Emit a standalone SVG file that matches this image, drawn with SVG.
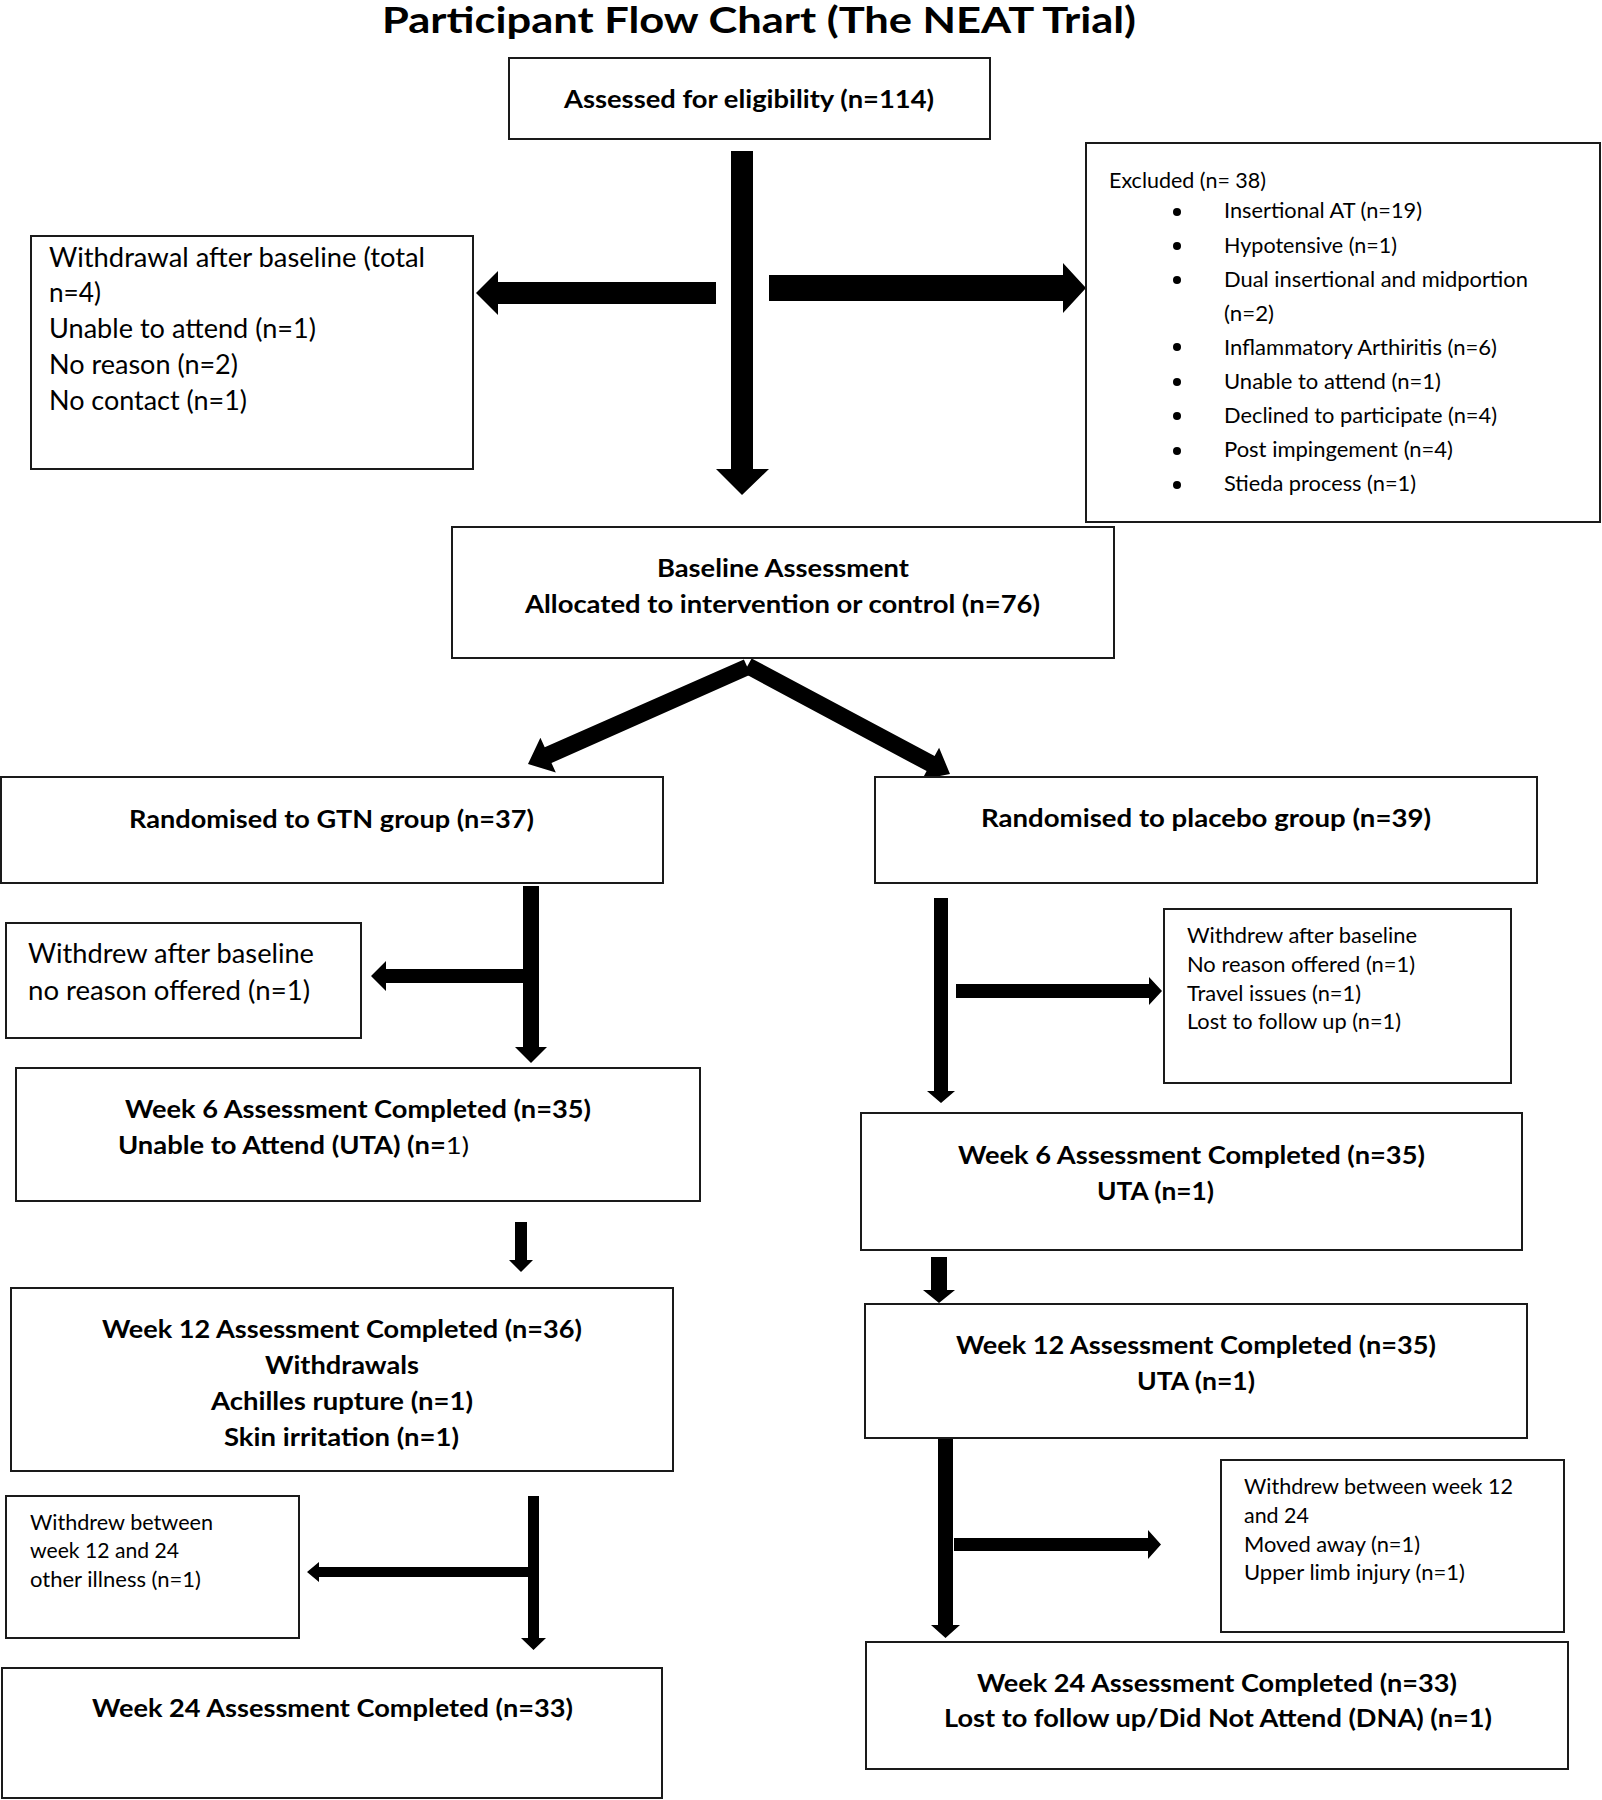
<svg xmlns="http://www.w3.org/2000/svg" width="1602" height="1800" viewBox="0 0 1602 1800">
<style>
.bg{fill:#ffffff}
.box{fill:#ffffff;stroke:#1a1a1a;stroke-width:2}
.arrow{fill:#000000;stroke:none}
text{font-family:Lato,"Liberation Sans",sans-serif;fill:#000000}
.title{font-size:36px;font-weight:bold}
.hb{font-size:24px;font-weight:bold}
.lg{font-size:26px}
.sm{font-size:21px}
.bul{fill:#000000}
</style>
<rect class="bg" x="0" y="0" width="1602" height="1800"/>
<text id="title" class="title" x="382" y="33" textLength="754" lengthAdjust="spacingAndGlyphs">Participant Flow Chart (The NEAT Trial)</text>

<g id="connectors">
<path class="arrow" d="M731,151 H753 V469 H769 L742,495 L716,469 H731 Z"/>
<path class="arrow" d="M716,282 V304 H498 V315 L476,293 L498,271 V282 Z"/>
<path class="arrow" d="M769,275 H1063 V263 L1086,288 L1063,313 V301 H769 Z"/>
<path class="arrow" d="M743.9,659.5 L544.7,747.3 L540.4,737.7 L528,764 L555.8,772.5 L551.5,762.9 L750.7,674.6 Z"/>
<path class="arrow" d="M751.6,658.5 L934.6,756.1 L939.1,747.7 L950,774 L922.1,779.5 L926.6,771.1 L743.6,673.1 Z"/>
<path class="arrow" d="M523,886 H539 V1047 H547 L531,1063 L515,1047 H523 Z"/>
<path class="arrow" d="M523,969 V983 H386 V991 L371,976 L386,961 V969 Z"/>
<path class="arrow" d="M515,1222 H527 V1260 H533 L521,1272 L509,1260 H515 Z"/>
<path class="arrow" d="M528,1496 H539 V1638 H546 L533.5,1650 L521,1638 H528 Z"/>
<path class="arrow" d="M528,1567 V1577 H319 V1582 L307,1572 L319,1562 V1567 Z"/>
<path class="arrow" d="M934,898 H948 V1091 H955 L941,1103 L927,1091 H934 Z"/>
<path class="arrow" d="M956,984 H1149 V977 L1162,991 L1149,1005 V998 H956 Z"/>
<path class="arrow" d="M931,1257 H947 V1290 H955 L939,1303 L923,1290 H931 Z"/>
<path class="arrow" d="M938,1438 H953 V1625 H960 L945.5,1638 L931,1625 H938 Z"/>
<path class="arrow" d="M954,1538 H1148 V1530 L1161,1544.5 L1148,1559 V1551 H954 Z"/>
</g>

<g id="assessed">
<rect class="box" x="509" y="58" width="481" height="81"/>
<text class="hb" x="564" y="108" textLength="370" lengthAdjust="spacingAndGlyphs">Assessed for eligibility (n=114)</text>
</g>

<g id="withdrawal-baseline">
<rect class="box" x="31" y="236" width="442" height="233"/>
<text class="lg" x="49" y="267" textLength="376" lengthAdjust="spacingAndGlyphs">Withdrawal after baseline (total</text>
<text class="lg" x="49" y="302" textLength="52" lengthAdjust="spacingAndGlyphs">n=4)</text>
<text class="lg" x="49" y="338" textLength="267" lengthAdjust="spacingAndGlyphs">Unable to attend (n=1)</text>
<text class="lg" x="49" y="374" textLength="189" lengthAdjust="spacingAndGlyphs">No reason (n=2)</text>
<text class="lg" x="49" y="410" textLength="198" lengthAdjust="spacingAndGlyphs">No contact (n=1)</text>
</g>

<g id="excluded">
<rect class="box" x="1086" y="143" width="514" height="379"/>
<text class="sm" x="1109" y="188" textLength="157" lengthAdjust="spacingAndGlyphs">Excluded (n= 38)</text>
<circle class="bul" cx="1177" cy="212" r="4"/>
<circle class="bul" cx="1177" cy="246" r="4"/>
<circle class="bul" cx="1177" cy="280" r="4"/>
<circle class="bul" cx="1177" cy="347" r="4"/>
<circle class="bul" cx="1177" cy="382" r="4"/>
<circle class="bul" cx="1177" cy="416" r="4"/>
<circle class="bul" cx="1177" cy="451" r="4"/>
<circle class="bul" cx="1177" cy="485" r="4"/>
<text class="sm" x="1224" y="218" textLength="198" lengthAdjust="spacingAndGlyphs">Insertional AT (n=19)</text>
<text class="sm" x="1224" y="253" textLength="173" lengthAdjust="spacingAndGlyphs">Hypotensive (n=1)</text>
<text class="sm" x="1224" y="287" textLength="304" lengthAdjust="spacingAndGlyphs">Dual insertional and midportion</text>
<text class="sm" x="1224" y="321" textLength="50" lengthAdjust="spacingAndGlyphs">(n=2)</text>
<text class="sm" x="1224" y="355" textLength="273" lengthAdjust="spacingAndGlyphs">Inflammatory Arthiritis (n=6)</text>
<text class="sm" x="1224" y="389" textLength="217" lengthAdjust="spacingAndGlyphs">Unable to attend (n=1)</text>
<text class="sm" x="1224" y="423" textLength="273" lengthAdjust="spacingAndGlyphs">Declined to participate (n=4)</text>
<text class="sm" x="1224" y="457" textLength="229" lengthAdjust="spacingAndGlyphs">Post impingement (n=4)</text>
<text class="sm" x="1224" y="491" textLength="192" lengthAdjust="spacingAndGlyphs">Stieda process (n=1)</text>
</g>

<g id="baseline">
<rect class="box" x="452" y="527" width="662" height="131"/>
<text class="hb" x="657" y="577" textLength="252" lengthAdjust="spacingAndGlyphs">Baseline Assessment</text>
<text class="hb" x="525" y="613" textLength="515" lengthAdjust="spacingAndGlyphs">Allocated to intervention or control (n=76)</text>
</g>

<g id="gtn">
<rect class="box" x="1" y="777" width="662" height="106"/>
<text class="hb" x="129" y="828" textLength="405" lengthAdjust="spacingAndGlyphs">Randomised to GTN group (n=37)</text>
</g>

<g id="gtn-withdrew">
<rect class="box" x="6" y="923" width="355" height="115"/>
<text class="lg" x="28" y="963" textLength="286" lengthAdjust="spacingAndGlyphs">Withdrew after baseline</text>
<text class="lg" x="28" y="1000" textLength="282" lengthAdjust="spacingAndGlyphs">no reason offered (n=1)</text>
</g>

<g id="gtn-week6">
<rect class="box" x="16" y="1068" width="684" height="133"/>
<text class="hb" x="125" y="1118" textLength="466" lengthAdjust="spacingAndGlyphs">Week 6 Assessment Completed (n=35)</text>
<text class="hb" x="118" y="1154" textLength="351" lengthAdjust="spacingAndGlyphs">Unable to Attend (UTA) (n=<tspan font-weight="normal">1)</tspan></text>
</g>

<g id="gtn-week12">
<rect class="box" x="11" y="1288" width="662" height="183"/>
<text class="hb" x="102" y="1338" textLength="480" lengthAdjust="spacingAndGlyphs">Week 12 Assessment Completed (n=36)</text>
<text class="hb" x="265" y="1374" textLength="154" lengthAdjust="spacingAndGlyphs">Withdrawals</text>
<text class="hb" x="211" y="1410" textLength="262" lengthAdjust="spacingAndGlyphs">Achilles rupture (n=1)</text>
<text class="hb" x="224" y="1446" textLength="235" lengthAdjust="spacingAndGlyphs">Skin irritation (n=1)</text>
</g>

<g id="gtn-withdrew2">
<rect class="box" x="6" y="1496" width="293" height="142"/>
<text class="sm" x="30" y="1530" textLength="183" lengthAdjust="spacingAndGlyphs">Withdrew between</text>
<text class="sm" x="30" y="1558" textLength="149" lengthAdjust="spacingAndGlyphs">week 12 and 24</text>
<text class="sm" x="30" y="1587" textLength="171" lengthAdjust="spacingAndGlyphs">other illness (n=1)</text>
</g>

<g id="gtn-week24">
<rect class="box" x="2" y="1668" width="660" height="130"/>
<text class="hb" x="92" y="1717" textLength="481" lengthAdjust="spacingAndGlyphs">Week 24 Assessment Completed (n=33)</text>
</g>

<g id="placebo">
<rect class="box" x="875" y="777" width="662" height="106"/>
<text class="hb" x="981" y="827" textLength="450" lengthAdjust="spacingAndGlyphs">Randomised to placebo group (n=39)</text>
</g>

<g id="placebo-withdrew">
<rect class="box" x="1164" y="909" width="347" height="174"/>
<text class="sm" x="1187" y="943" textLength="230" lengthAdjust="spacingAndGlyphs">Withdrew after baseline</text>
<text class="sm" x="1187" y="972" textLength="228" lengthAdjust="spacingAndGlyphs">No reason offered (n=1)</text>
<text class="sm" x="1187" y="1001" textLength="174" lengthAdjust="spacingAndGlyphs">Travel issues (n=1)</text>
<text class="sm" x="1187" y="1029" textLength="214" lengthAdjust="spacingAndGlyphs">Lost to follow up (n=1)</text>
</g>

<g id="placebo-week6">
<rect class="box" x="861" y="1113" width="661" height="137"/>
<text class="hb" x="958" y="1164" textLength="467" lengthAdjust="spacingAndGlyphs">Week 6 Assessment Completed (n=35)</text>
<text class="hb" x="1097" y="1200" textLength="117" lengthAdjust="spacingAndGlyphs">UTA (n=1)</text>
</g>

<g id="placebo-week12">
<rect class="box" x="865" y="1304" width="662" height="134"/>
<text class="hb" x="956" y="1354" textLength="480" lengthAdjust="spacingAndGlyphs">Week 12 Assessment Completed (n=35)</text>
<text class="hb" x="1137" y="1390" textLength="118" lengthAdjust="spacingAndGlyphs">UTA (n=1)</text>
</g>

<g id="placebo-withdrew2">
<rect class="box" x="1221" y="1460" width="343" height="172"/>
<text class="sm" x="1244" y="1494" textLength="269" lengthAdjust="spacingAndGlyphs">Withdrew between week 12</text>
<text class="sm" x="1244" y="1523" textLength="65" lengthAdjust="spacingAndGlyphs">and 24</text>
<text class="sm" x="1244" y="1552" textLength="176" lengthAdjust="spacingAndGlyphs">Moved away (n=1)</text>
<text class="sm" x="1244" y="1580" textLength="221" lengthAdjust="spacingAndGlyphs">Upper limb injury (n=1)</text>
</g>

<g id="placebo-week24">
<rect class="box" x="866" y="1642" width="702" height="127"/>
<text class="hb" x="977" y="1692" textLength="480" lengthAdjust="spacingAndGlyphs">Week 24 Assessment Completed (n=33)</text>
<text class="hb" x="944" y="1727" textLength="548" lengthAdjust="spacingAndGlyphs">Lost to follow up/Did Not Attend (DNA) (n=1)</text>
</g>
</svg>
